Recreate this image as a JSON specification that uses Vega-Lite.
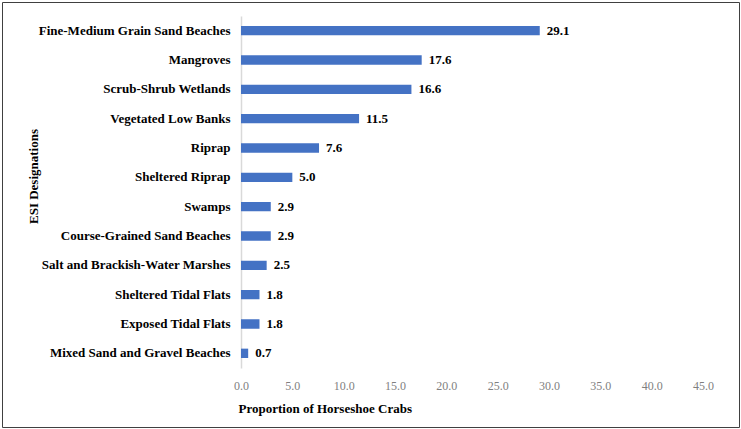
{
  "$schema": "https://vega.github.io/schema/vega-lite/v6.json",
  "autosize": "none",
  "padding": {"left": 2, "top": 2, "right": 2, "bottom": 2},
  "width": 737,
  "height": 425,
  "background": "white",
  "config": {
    "view": {"stroke": "#404040", "strokeWidth": 1},
    "font": "Liberation Serif"
  },
  "data": {
    "values": [
      {"esi": "Fine-Medium Grain Sand Beaches", "value": 29.1},
      {"esi": "Mangroves", "value": 17.6},
      {"esi": "Scrub-Shrub Wetlands", "value": 16.6},
      {"esi": "Vegetated Low Banks", "value": 11.5},
      {"esi": "Riprap", "value": 7.6},
      {"esi": "Sheltered Riprap", "value": 5.0},
      {"esi": "Swamps", "value": 2.9},
      {"esi": "Course-Grained Sand Beaches", "value": 2.9},
      {"esi": "Salt and Brackish-Water Marshes", "value": 2.5},
      {"esi": "Sheltered Tidal Flats", "value": 1.8},
      {"esi": "Exposed Tidal Flats", "value": 1.8},
      {"esi": "Mixed Sand and Gravel Beaches", "value": 0.7}
    ]
  },
  "encoding": {
    "y": {
      "field": "esi",
      "type": "nominal",
      "sort": null,
      "scale": {"range": [14, 366], "paddingInner": 0.68, "paddingOuter": 0.34},
      "axis": {
        "title": "ESI Designations",
        "offset": -239,
        "domainColor": "#d9d9d9",
        "domainWidth": 1.5,
        "ticks": false,
        "grid": false,
        "labelFont": "Liberation Serif",
        "labelFontWeight": "bold",
        "labelFontSize": 13,
        "labelColor": "#000000",
        "labelPadding": 11,
        "labelLimit": 300,
        "titleFont": "Liberation Serif",
        "titleFontWeight": "bold",
        "titleFontSize": 13,
        "titleColor": "#000000",
        "titleX": -208,
        "titleY": 174,
        "titleBaseline": "middle",
        "titleAngle": 270
      }
    },
    "x": {
      "field": "value",
      "type": "quantitative",
      "scale": {"domain": [0, 45], "range": [239, 701], "nice": false},
      "axis": {
        "title": "Proportion of Horseshoe Crabs",
        "offset": -59,
        "values": [0, 5, 10, 15, 20, 25, 30, 35, 40, 45],
        "format": ".1f",
        "domain": false,
        "ticks": false,
        "grid": false,
        "labelFlush": false,
        "labelFont": "Liberation Serif",
        "labelFontSize": 12,
        "labelColor": "#7f7f7f",
        "labelPadding": 12,
        "titleFont": "Liberation Serif",
        "titleFontWeight": "bold",
        "titleFontSize": 13,
        "titleColor": "#000000",
        "titleX": 236,
        "titleY": 40,
        "titleAlign": "left",
        "titleAnchor": "start",
        "titleBaseline": "middle"
      }
    }
  },
  "layer": [
    {"mark": {"type": "bar", "color": "#4472C4"}},
    {
      "mark": {"type": "text", "align": "left", "baseline": "middle", "dx": 7, "font": "Liberation Serif", "fontWeight": "bold", "fontSize": 13, "color": "#000000"},
      "encoding": {"text": {"field": "value", "type": "quantitative", "format": ".1f"}}
    }
  ]
}
